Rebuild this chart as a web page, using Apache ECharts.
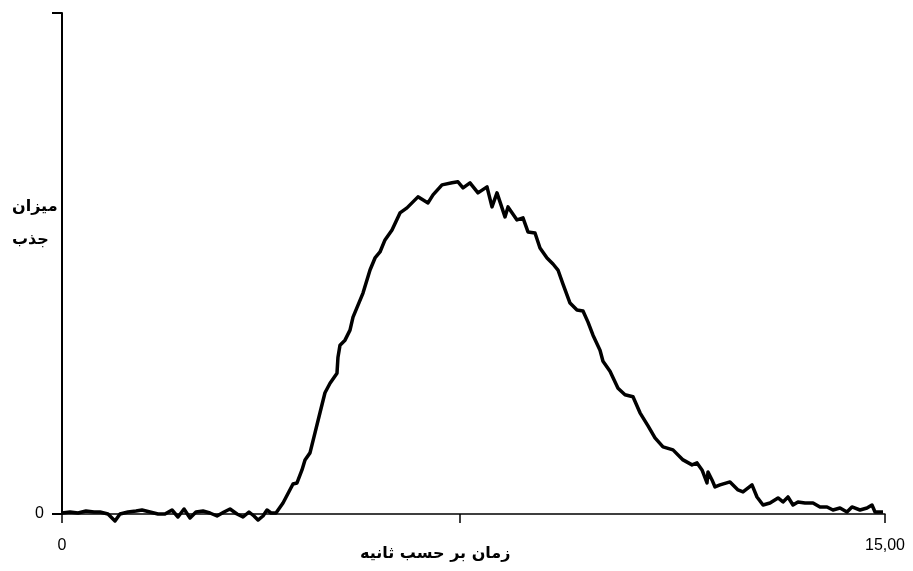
<!DOCTYPE html>
<html>
<head>
<meta charset="utf-8">
<script src="https://cdn.jsdelivr.net/npm/echarts@6/dist/echarts.min.js"></script>
<style>
  html, body { margin: 0; padding: 0; background: #fff; }
  #main { width: 913px; height: 571px; }
</style>
</head>
<body>
<div id="main"></div>
<script>
// زمان (ثانیه)
var timeValues = [
  0.00, 0.146, 0.292, 0.437, 0.583, 0.693, 0.838, 0.966, 1.057, 1.203,
  1.349, 1.458, 1.604, 1.750, 1.877, 2.005, 2.114, 2.224, 2.333, 2.442,
  2.570, 2.697, 2.825, 2.953, 3.062, 3.190, 3.299, 3.408, 3.499, 3.572,
  3.663, 3.736, 3.809, 3.900,
  4.028, 4.210, 4.283, 4.374, 4.429, 4.520, 4.611, 4.702, 4.793, 4.885,
  5.012, 5.030, 5.067, 5.158, 5.249, 5.304, 5.486, 5.614, 5.705, 5.796,
  5.887, 6.015, 6.160, 6.288, 6.488, 6.671, 6.762, 6.926, 7.108, 7.217,
  7.309, 7.436, 7.582, 7.746, 7.837, 7.928, 7.983, 8.074, 8.129, 8.293,
  8.402, 8.493, 8.621, 8.712, 8.840, 8.949, 9.040, 9.131, 9.259, 9.386,
  9.496, 9.587, 9.678, 9.806, 9.860, 9.988, 10.134, 10.261, 10.407, 10.535,
  10.681, 10.808, 10.954, 11.136, 11.319, 11.483, 11.574, 11.665, 11.756, 11.774,
  11.847, 11.902, 11.993, 12.175, 12.321, 12.412, 12.576, 12.667, 12.777, 12.904,
  13.050, 13.141, 13.232, 13.323, 13.414, 13.542, 13.688, 13.815, 13.943, 14.052,
  14.180, 14.307, 14.398, 14.544, 14.672, 14.763, 14.818, 14.909, 14.964
];
// میزان جذب (نسبی)
var absorbValues = [
  0.002, 0.004, 0.002, 0.006, 0.004, 0.004, 0.000, -0.014, 0.000, 0.004,
  0.006, 0.008, 0.004, 0.000, 0.000, 0.008, -0.006, 0.010, -0.008, 0.004,
  0.006, 0.002, -0.004, 0.004, 0.010, 0.000, -0.006, 0.004, -0.004, -0.012,
  -0.004, 0.008, 0.002, 0.002,
  0.022, 0.060, 0.062, 0.088, 0.108, 0.122, 0.162, 0.202, 0.242, 0.261,
  0.281, 0.313, 0.337, 0.347, 0.367, 0.393, 0.441, 0.487, 0.511, 0.523,
  0.547, 0.567, 0.601, 0.611, 0.633, 0.621, 0.637, 0.657, 0.661, 0.663,
  0.651, 0.661, 0.641, 0.653, 0.613, 0.641, 0.623, 0.593, 0.613, 0.587,
  0.591, 0.563, 0.561, 0.531, 0.511, 0.499, 0.487, 0.459, 0.421, 0.407,
  0.405, 0.383, 0.357, 0.327, 0.305, 0.285, 0.251, 0.238, 0.234, 0.202,
  0.176, 0.152, 0.134, 0.128, 0.108, 0.098, 0.102, 0.088, 0.062, 0.084,
  0.068, 0.054, 0.058, 0.064, 0.048, 0.044, 0.058, 0.034, 0.018, 0.022,
  0.032, 0.024, 0.034, 0.018, 0.024, 0.022, 0.022, 0.014, 0.014, 0.008,
  0.012, 0.004, 0.014, 0.008, 0.012, 0.018, 0.004, 0.004, 0.004
];
var xTickValues = [0, 7.25, 15];
var xLabelValues = [0, 15];
var yTickValues = [0, 1];
var yLabelValues = [0];

var chart;

//数据点
function BuildData() {
  var data = [];
  for (var i = 0; i < timeValues.length; i++) {
    data.push([timeValues[i], absorbValues[i]]);
  }
  return data;
}

//初始化图表
function InitChart() {
  chart = echarts.init(document.getElementById('main'));
  var option = {
    animation: false,
    backgroundColor: '#fff',
    grid: { left: 62, right: 28, top: 13, bottom: 57 },
    xAxis: {
      type: 'value',
      min: 0,
      max: 15,
      splitLine: { show: false },
      axisLine: { lineStyle: { color: '#000', width: 1.5 } },
      axisTick: { length: 9, customValues: xTickValues, lineStyle: { color: '#000', width: 1.5 } },
      axisLabel: {
        customValues: xLabelValues,
        margin: 24,
        color: '#000',
        fontSize: 16,
        fontFamily: 'Liberation Sans, Arial, sans-serif',
        formatter: function (v) { return v === 0 ? '0' : v.toFixed(2).replace('.', ','); }
      }
    },
    yAxis: {
      type: 'value',
      min: 0,
      max: 1,
      splitLine: { show: false },
      axisLine: { lineStyle: { color: '#000', width: 2 } },
      axisTick: { length: 10, customValues: yTickValues, lineStyle: { color: '#000', width: 2 } },
      axisLabel: {
        customValues: yLabelValues,
        margin: 18,
        color: '#000',
        fontSize: 16,
        fontFamily: 'Liberation Sans, Arial, sans-serif'
      }
    },
    graphic: [
      {
        type: 'text', left: 12, top: 199,
        style: { text: 'میزان', fill: '#000', font: 'bold 16px "DejaVu Sans"' }
      },
      {
        type: 'text', left: 12, top: 232,
        style: { text: 'جذب', fill: '#000', font: 'bold 16px "DejaVu Sans"' }
      },
      {
        type: 'text', left: 360, top: 546,
        style: { text: 'زمان بر حسب ثانیه', fill: '#000', font: 'bold 16px "DejaVu Sans"' }
      }
    ],
    series: [{
      type: 'line',
      data: BuildData(),
      showSymbol: false,
      smooth: false,
      lineStyle: { color: '#000', width: 3.5, join: 'round' },
      clip: false
    }]
  };
  chart.setOption(option);
}

InitChart();
</script>
</body>
</html>
